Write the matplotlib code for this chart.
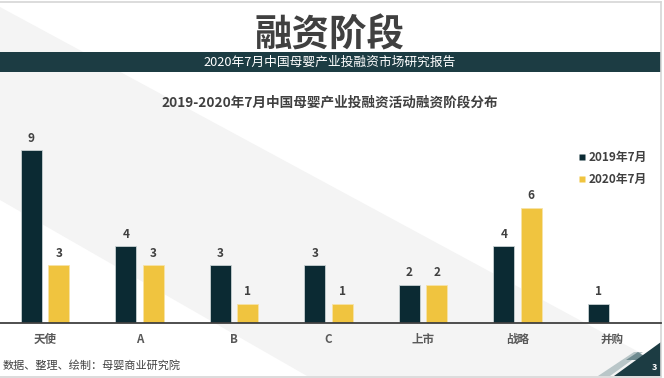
import matplotlib
matplotlib.use('Agg')
import matplotlib.pyplot as plt
from matplotlib.patches import Polygon, Rectangle
from matplotlib.lines import Line2D
import numpy as np

plt.rcParams['font.family'] = ['Noto Sans CJK SC', 'DejaVu Sans']

# ---- data ----
categories = ['天使', 'A', 'B', 'C', '上市', '战略', '并购']
series_names = ['2019年7月', '2020年7月']
values_2019 = [9, 4, 3, 3, 2, 4, 1]
values_2020 = [3, 3, 1, 1, 2, 6, 0]

page_title = '融资阶段'
banner_text = '2020年7月中国母婴产业投融资市场研究报告'
chart_title = '2019-2020年7月中国母婴产业投融资活动融资阶段分布'
footer_text = '数据、整理、绘制：母婴商业研究院'
page_number = '3'

# ---- styles ----
DARK = '#0b2a33'
YELLOW = '#f0c43f'
TEXT = '#404040'
BANNER = '#1c3c43'
BAND = '#f4f4f4'

W, H = 664, 378
fig = plt.figure(figsize=(W / 100, H / 100), dpi=100)
fig.patch.set_facecolor('white')

# background / decoration layer in pixel coordinates
bg = fig.add_axes([0, 0, 1, 1], zorder=0)
bg.set_xlim(0, W)
bg.set_ylim(H, 0)
bg.axis('off')

bg.add_patch(Polygon([(0, 7), (661, 364), (661, 376), (307, 376), (0, 200)],
                     closed=True, facecolor=BAND, edgecolor='none'))
# slide borders
bg.plot([0, 661], [2, 2], color='#d6d6d6', lw=1.2)
bg.plot([661, 661], [2, 376], color='#d6d6d6', lw=1.2)
bg.plot([0, 661], [376.5, 376.5], color='#d6d6d6', lw=1.2)

# banner
bg.add_patch(Rectangle((0, 52), 661, 20, facecolor=BANNER, edgecolor='none'))
bg.text(330, 35, page_title, ha='center', va='center', fontsize=27,
        fontweight='bold', color=TEXT)
bg.text(330, 62.5, banner_text, ha='center', va='center', fontsize=9.2,
        color='white')
bg.text(3, 365, footer_text, ha='left', va='center', fontsize=8, color=TEXT)

# bottom-right corner decoration
bg.add_patch(Polygon([(598, 376), (634, 352), (643, 352), (610, 376)],
                     closed=True, facecolor='#b9c6c8', edgecolor='none'))
bg.add_patch(Polygon([(626, 360), (638, 352), (650, 360)],
                     closed=True, facecolor='#6f8b90', edgecolor='none'))
bg.add_patch(Polygon([(614, 376), (661, 342), (661, 376)],
                     closed=True, facecolor=BANNER, edgecolor='none'))
bg.text(654, 367, page_number, ha='center', va='center', fontsize=6.5,
        fontweight='bold', color='white')

# chart title
bg.text(330, 103, chart_title, ha='center', va='center', fontsize=9.8,
        fontweight='bold', color=TEXT)

# ---- chart axes ----
unit_px = 19.2
step_px = 94.5
first_px = 45
ax_left, ax_w = 0, 661
ax_base, ax_h = 55, 193
ax = fig.add_axes([ax_left / W, ax_base / H, ax_w / W, ax_h / H], zorder=1)
ax.patch.set_alpha(0)
ax.set_xlim(-first_px / step_px, (ax_w - first_px) / step_px)
ax.set_ylim(0, ax_h / unit_px)

x = np.arange(len(categories))
bw = 21 / step_px
off = 13.7 / step_px
b1 = ax.bar(x - off, values_2019, width=bw, color=DARK, edgecolor='#c9d1d3',
            linewidth=0.6, label=series_names[0])
b2 = ax.bar(x + off, values_2020, width=bw, color=YELLOW, edgecolor='#f6e3a8',
            linewidth=0.6, label=series_names[1])

for xs, vals in ((x - off, values_2019), (x + off, values_2020)):
    for xi, v in zip(xs, vals):
        if v:
            ax.annotate(str(v), (xi, v), xytext=(0, 8.6), textcoords='offset points',
                        ha='center', va='center', fontsize=8.5, fontweight='bold',
                        color=TEXT)

for s in ('top', 'right', 'left'):
    ax.spines[s].set_visible(False)
ax.spines['bottom'].set_color('#404040')
ax.spines['bottom'].set_linewidth(1.3)
ax.set_yticks([])
ax.set_xticks(x)
ax.set_xticklabels(categories, fontsize=8.3, fontweight='bold', color='#595959')
ax.tick_params(axis='x', length=0, pad=7)

handles = [Line2D([], [], marker='s', linestyle='none', markersize=5,
                  markerfacecolor=c, markeredgecolor='none')
           for c in (DARK, YELLOW)]
leg = ax.legend(handles, series_names, loc='upper left',
                bbox_to_anchor=(578 / W, 1 - 151 / H), bbox_transform=fig.transFigure,
                frameon=False, fontsize=8.5, handlelength=0.6, handletextpad=0.3,
                labelspacing=0.75, borderpad=0, borderaxespad=0)
for t in leg.get_texts():
    t.set_color(TEXT)
    t.set_fontweight('bold')

fig.savefig('out.png', dpi=100)
